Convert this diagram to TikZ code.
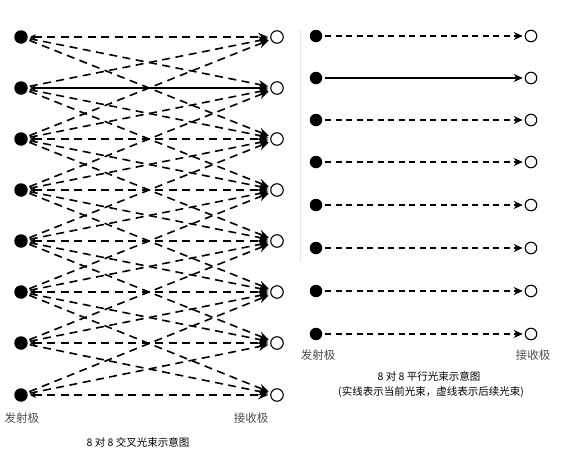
\documentclass[tikz,border=0pt]{standalone}
\usepackage{fontspec}
\newfontfamily\cjk{Noto Sans CJK SC}
\usetikzlibrary{arrows.meta}

\tikzset{
	tx/.style={circle, fill=black, minimum size=13.5pt, inner sep=0pt},
	rx/.style={circle, draw=black, line width=1.1pt, fill=white, minimum size=12.5pt, inner sep=0pt},
	beam/.style={line width=1.6pt, dash pattern=on 8pt off 5.5pt, shorten >=2pt, shorten <=2pt, -{Stealth[length=10pt,width=8.5pt]}},
	both/.style={{Stealth[length=6pt,width=6pt]}-{Stealth[length=10pt,width=8.5pt]}},
	pbeam/.style={line width=1.2pt, dash pattern=on 6pt off 4.5pt, shorten >=2pt, shorten <=3pt, -{Stealth[length=9pt,width=8pt]}},
	caption/.style={font=\cjk\fontsize{11.5}{13}\selectfont, text=black!70},
	title/.style={font=\cjk\fontsize{10.5}{12}\selectfont}
}

\begin{document}
\begin{tikzpicture}[x=1pt, y=-1pt]
	\useasboundingbox (0,0) rectangle (582,453);

	% left: crossed beams
	\node[tx](ltone) at (21,37){};
	\node[tx](lttwo) at (21,88){};
	\node[tx](ltthree) at (21,139){};
	\node[tx](ltfour) at (21,190){};
	\node[tx](ltfive) at (21,241){};
	\node[tx](ltsix) at (21,292){};
	\node[tx](ltseven) at (21,343){};
	\node[tx](lteight) at (21,395){};

	\node[rx](lrone) at (277,37){};
	\node[rx](lrtwo) at (277,88){};
	\node[rx](lrthree) at (277,139){};
	\node[rx](lrfour) at (277,190){};
	\node[rx](lrfive) at (277,241){};
	\node[rx](lrsix) at (277,292){};
	\node[rx](lrseven) at (277,343){};
	\node[rx](lreight) at (277,395){};

	\draw [beam, both] (ltone) -- (lrone);
	\draw [beam, both, solid] (lttwo) -- (lrtwo);
	\draw [beam, both] (ltthree) -- (lrthree);
	\draw [beam, both] (ltfour) -- (lrfour);
	\draw [beam, both] (ltfive) -- (lrfive);
	\draw [beam, both] (ltsix) -- (lrsix);
	\draw [beam, both] (ltseven) -- (lrseven);
	\draw [beam, both] (lteight) -- (lreight);

	\draw [beam] (ltone) -- (lrtwo);
	\draw [beam] (ltone) -- (lrthree);
	\draw [beam] (lttwo) -- (lrone);
	\draw [beam] (lttwo) -- (lrthree);
	\draw [beam] (lttwo) -- (lrfour);
	\draw [beam] (ltthree) -- (lrone);
	\draw [beam] (ltthree) -- (lrtwo);
	\draw [beam] (ltthree) -- (lrfour);
	\draw [beam] (ltthree) -- (lrfive);
	\draw [beam] (ltfour) -- (lrtwo);
	\draw [beam] (ltfour) -- (lrthree);
	\draw [beam] (ltfour) -- (lrfive);
	\draw [beam] (ltfour) -- (lrsix);
	\draw [beam] (ltfive) -- (lrthree);
	\draw [beam] (ltfive) -- (lrfour);
	\draw [beam] (ltfive) -- (lrsix);
	\draw [beam] (ltfive) -- (lrseven);
	\draw [beam] (ltsix) -- (lrfour);
	\draw [beam] (ltsix) -- (lrfive);
	\draw [beam] (ltsix) -- (lrseven);
	\draw [beam] (ltsix) -- (lreight);
	\draw [beam] (ltseven) -- (lrfive);
	\draw [beam] (ltseven) -- (lrsix);
	\draw [beam] (ltseven) -- (lreight);
	\draw [beam] (lteight) -- (lrsix);
	\draw [beam] (lteight) -- (lrseven);

	\node[caption](ltlabel) at (22,418){发射极};
	\node[caption](lrlabel) at (251,418){接收极};
	\node[title](ltitle) at (138,442){8~对~8~交叉光束示意图};

	\draw [black!10, line width=1pt] (300,30) -- (300,262);

	% right: parallel beams
	\node[tx, minimum size=12.5pt](ptone) at (316,36){};
	\node[tx, minimum size=12.5pt](pttwo) at (316,78){};
	\node[tx, minimum size=12.5pt](ptthree) at (316,120){};
	\node[tx, minimum size=12.5pt](ptfour) at (316,162){};
	\node[tx, minimum size=12.5pt](ptfive) at (316,205){};
	\node[tx, minimum size=12.5pt](ptsix) at (316,248){};
	\node[tx, minimum size=12.5pt](ptseven) at (316,291){};
	\node[tx, minimum size=12.5pt](pteight) at (316,334){};

	\node[rx, minimum size=11.5pt](prone) at (531,36){};
	\node[rx, minimum size=11.5pt](prtwo) at (531,78){};
	\node[rx, minimum size=11.5pt](prthree) at (531,120){};
	\node[rx, minimum size=11.5pt](prfour) at (531,162){};
	\node[rx, minimum size=11.5pt](prfive) at (531,205){};
	\node[rx, minimum size=11.5pt](prsix) at (531,248){};
	\node[rx, minimum size=11.5pt](prseven) at (531,291){};
	\node[rx, minimum size=11.5pt](preight) at (531,334){};

	\draw [pbeam] (ptone) -- (prone);
	\draw [pbeam, solid] (pttwo) -- (prtwo);
	\draw [pbeam] (ptthree) -- (prthree);
	\draw [pbeam] (ptfour) -- (prfour);
	\draw [pbeam] (ptfive) -- (prfive);
	\draw [pbeam] (ptsix) -- (prsix);
	\draw [pbeam] (ptseven) -- (prseven);
	\draw [pbeam] (pteight) -- (preight);

	\node[caption](ptlabel) at (318,355){发射极};
	\node[caption](prlabel) at (533,355){接收极};
	\node[title](ptitle) at (429,376){8~对~8~平行光束示意图};
	\node[title](pnote) at (431,392){(实线表示当前光束，虚线表示后续光束)};
\end{tikzpicture}
\end{document}
